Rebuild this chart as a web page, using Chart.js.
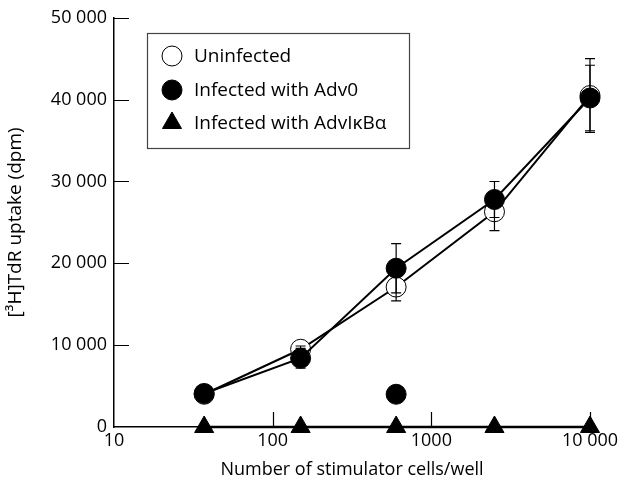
<!DOCTYPE html>
<html>
<head>
<meta charset="utf-8">
<script src="https://cdn.jsdelivr.net/npm/chart.js@4/dist/chart.umd.min.js"></script>
<style>
  html, body { margin: 0; padding: 0; background: #fff; }
  #wrap { width: 640px; height: 485px; }
</style>
</head>
<body>
<div id="wrap"><canvas id="c" width="640" height="485"></canvas></div>
<script>
// stimulator cells per well
const cells = [37, 150, 600, 2500, 10000];
const uninfected = [4000, 9500, 17100, 26300, 40500];
const uninfectedErr = [0, 400, 1700, 2300, 4500];
const adv0 = [4100, 8400, 19400, 27800, 40200];
const adv0Err = [0, 1200, 3000, 2200, 4000];
const advIkb = [0, 0, 0, 0, 0];
// lone point at 600 cells, not joined to the line
const stray = [{ x: 600, y: 4000 }];

const xTicks = [10, 100, 1000, 10000];
const yTicks = [0, 10000, 20000, 30000, 40000, 50000];

const FONT = "'Open Sans', 'Noto Sans', sans-serif";

function pts(vals) {
    return cells.map((c, i) => ({ x: c, y: vals[i] }));
}
function fmt(v) {
    if (v >= 10000) return String(v).replace(/\B(?=(\d{3})+(?!\d))/g, " ");
    return String(v);
}

const errorBars = {
    id: "errorBars",
    afterDatasetsDraw(chart) {
        const ctx = chart.ctx;
        const xs = chart.scales.x, ys = chart.scales.y;
        ctx.save();
        ctx.strokeStyle = "#000";
        ctx.lineWidth = 1.2;
        [[uninfected, uninfectedErr], [adv0, adv0Err]].forEach(([vals, errs]) => {
            cells.forEach((c, i) => {
                if (!errs[i]) return;
                const px = xs.getPixelForValue(c);
                const top = ys.getPixelForValue(vals[i] + errs[i]);
                const bot = ys.getPixelForValue(vals[i] - errs[i]);
                ctx.beginPath();
                ctx.moveTo(px, top); ctx.lineTo(px, bot);
                ctx.moveTo(px - 5, top); ctx.lineTo(px + 5, top);
                ctx.moveTo(px - 5, bot); ctx.lineTo(px + 5, bot);
                ctx.stroke();
            });
        });
        ctx.restore();
    }
};

// ticks point into the plot
const innerTicks = {
    id: "innerTicks",
    afterDraw(chart) {
        const ctx = chart.ctx;
        const xs = chart.scales.x, ys = chart.scales.y;
        const a = chart.chartArea;
        ctx.save();
        ctx.strokeStyle = "#000";
        ctx.lineWidth = 1.2;
        ctx.beginPath();
        yTicks.slice(1).forEach(v => {
            const py = Math.round(ys.getPixelForValue(v)) + 0.5;
            ctx.moveTo(a.left, py); ctx.lineTo(a.left + 15, py);
        });
        xTicks.slice(1).forEach(v => {
            const px = Math.round(xs.getPixelForValue(v)) + 0.5;
            ctx.moveTo(px, a.bottom); ctx.lineTo(px, a.bottom - 15);
        });
        ctx.stroke();
        ctx.restore();
    }
};

const boxLegend = {
    id: "boxLegend",
    afterDraw(chart) {
        const ctx = chart.ctx;
        ctx.save();
        ctx.strokeStyle = "#444";
        ctx.lineWidth = 1.2;
        ctx.strokeRect(147.5, 33.5, 262, 115);
        ctx.font = "19px " + FONT;
        ctx.textBaseline = "middle";
        const rows = [56, 90, 123];
        [0, 1, 2].forEach((di, k) => {
            const ds = chart.data.datasets[di];
            ctx.fillStyle = ds.pointBackgroundColor;
            ctx.strokeStyle = "#000";
            ctx.lineWidth = 1;
            Chart.helpers.drawPoint(ctx, {
                pointStyle: ds.pointStyle, radius: ds.pointRadius, borderWidth: 1, rotation: 0
            }, 172, rows[k]);
            ctx.fillStyle = "#000";
            ctx.fillText(ds.label, 194, rows[k] + 1);
        });
        ctx.restore();
    }
};

new Chart(document.getElementById("c"), {
    type: "line",
    data: {
        datasets: [
            {
                label: "Uninfected", data: pts(uninfected), order: 3,
                borderColor: "#000", borderWidth: 2,
                pointStyle: "circle", pointRadius: 10,
                pointBackgroundColor: "#fff", pointBorderColor: "#000", pointBorderWidth: 1
            },
            {
                label: "Infected with Adv0", data: pts(adv0), order: 2,
                borderColor: "#000", borderWidth: 2,
                pointStyle: "circle", pointRadius: 10,
                pointBackgroundColor: "#000", pointBorderColor: "#000", pointBorderWidth: 1
            },
            {
                label: "Infected with AdvI\u03baB\u03b1", data: pts(advIkb), order: 1,
                borderColor: "#000", borderWidth: 2.5,
                pointStyle: "triangle", pointRadius: 11,
                pointBackgroundColor: "#000", pointBorderColor: "#000", pointBorderWidth: 1
            },
            {
                label: "stray", data: stray, order: 2, showLine: false,
                pointStyle: "circle", pointRadius: 10,
                pointBackgroundColor: "#000", pointBorderColor: "#000", pointBorderWidth: 1
            }
        ]
    },
    options: {
        responsive: false,
        animation: false,
        clip: false,
        layout: { padding: { top: 7, right: 50, left: 0, bottom: 0 } },
        plugins: { legend: { display: false }, tooltip: { enabled: false } },
        scales: {
            x: {
                type: "logarithmic", min: 10, max: 10000,
                afterBuildTicks: s => { s.ticks = xTicks.map(v => ({ value: v })); },
                afterFit: s => { s.height = 58; },
                grid: { display: false, drawTicks: false },
                border: { display: true, color: "#000", width: 1.5 },
                ticks: {
                    color: "#000", padding: 3, maxRotation: 0,
                    font: { family: FONT, size: 18 },
                    callback: v => fmt(v)
                },
                title: {
                    display: true, text: "Number of stimulator cells/well", color: "#000",
                    font: { family: FONT, size: 18 }, padding: { top: 0 }
                }
            },
            y: {
                min: 0, max: 50000,
                afterBuildTicks: s => { s.ticks = yTicks.map(v => ({ value: v })); },
                afterFit: s => { s.width = 114; },
                grid: { display: false, drawTicks: false },
                border: { display: true, color: "#000", width: 1.5 },
                ticks: {
                    color: "#000", padding: 7,
                    font: { family: FONT, size: 18 },
                    callback: v => fmt(v)
                },
                title: {
                    display: true, text: "[\u00b3H]TdR uptake (dpm)", color: "#000",
                    font: { family: FONT, size: 19 }, padding: { bottom: 0 }
                }
            }
        }
    },
    plugins: [errorBars, innerTicks, boxLegend]
});
</script>
</body>
</html>
